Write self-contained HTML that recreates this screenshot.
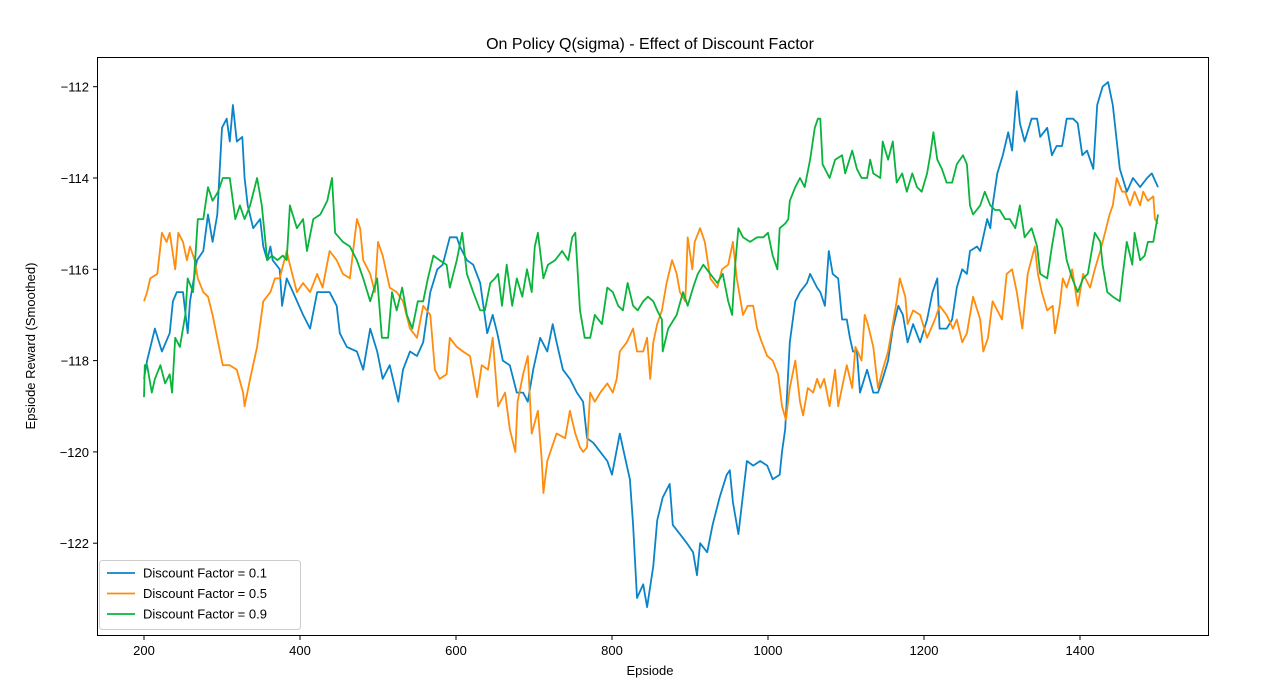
<!DOCTYPE html>
<html><head><meta charset="utf-8"><style>
html,body{margin:0;padding:0;background:#fff;}
svg{display:block;font-family:"Liberation Sans","DejaVu Sans",sans-serif;}
</style></head><body>
<svg id="chart" width="1286" height="696" viewBox="0 0 1286 696">
<text x="650" y="49" font-size="16" text-anchor="middle">On Policy Q(sigma) - Effect of Discount Factor</text>
<text x="650" y="675" font-size="13" text-anchor="middle">Epsiode</text>
<text transform="translate(35,346) rotate(-90)" font-size="13" text-anchor="middle">Epsiode Reward (Smoothed)</text>
<g id="ticks"></g>
<g id="lines"></g>
<rect x="97.5" y="57.5" width="1111" height="578" fill="none" stroke="#000" stroke-width="1"/>
<g id="legend"></g>
</svg>
<script>
const xTicks=[200,400,600,800,1000,1200,1400];
const yTicks=[-112,-114,-116,-118,-120,-122];
const seriesNames=["Discount Factor = 0.1","Discount Factor = 0.5","Discount Factor = 0.9"];
const seriesColors=["#0a84c8","#ff8c0a","#0ab43c"];
const blueEp=[200,204,214,223,233,237,242,250,256,259,268,276,282,288,294,300,306,310,314,319,326,329,333,340,349,353,358,362,365,374,377,383,391,404,413,422,429,438,447,451,460,473,481,490,499,506,515,526,532,541,550,558,567,576,583,592,601,605,614,622,631,640,647,653,660,669,678,686,692,699,708,717,724,729,737,746,755,763,768,776,785,794,800,810,819,823,827,832,840,845,853,858,865,874,878,887,896,904,909,913,922,929,938,947,951,955,962,973,981,990,999,1006,1015,1018,1022,1028,1035,1041,1050,1054,1063,1067,1073,1078,1083,1090,1095,1101,1105,1109,1114,1118,1127,1135,1141,1147,1154,1160,1167,1173,1179,1186,1195,1204,1211,1217,1220,1229,1236,1242,1249,1255,1259,1268,1272,1281,1285,1288,1294,1301,1308,1313,1319,1323,1329,1338,1345,1349,1358,1364,1370,1377,1383,1391,1397,1403,1409,1417,1422,1429,1436,1442,1451,1460,1468,1477,1486,1492,1500];
const blueVal=[-118.4,-118.0,-117.3,-117.8,-117.4,-116.7,-116.5,-116.5,-117.4,-116.7,-115.8,-115.6,-114.8,-115.4,-114.8,-112.9,-112.7,-113.2,-112.4,-113.2,-113.1,-114.0,-114.6,-115.1,-114.9,-115.5,-115.8,-115.5,-115.8,-116.0,-116.8,-116.2,-116.5,-117.0,-117.3,-116.5,-116.5,-116.5,-116.8,-117.4,-117.7,-117.8,-118.2,-117.3,-117.8,-118.4,-118.1,-118.9,-118.2,-117.8,-117.9,-117.6,-116.5,-116.0,-115.9,-115.3,-115.3,-115.5,-115.8,-115.9,-116.3,-117.4,-117.0,-117.4,-118.0,-118.1,-118.7,-118.7,-118.9,-118.2,-117.5,-117.8,-117.2,-117.6,-118.2,-118.4,-118.7,-118.9,-119.7,-119.8,-120.0,-120.2,-120.5,-119.6,-120.3,-120.6,-121.6,-123.2,-122.9,-123.4,-122.5,-121.5,-121.0,-120.7,-121.6,-121.8,-122.0,-122.2,-122.7,-122.0,-122.2,-121.6,-121.0,-120.5,-120.4,-121.1,-121.8,-120.2,-120.3,-120.2,-120.3,-120.6,-120.5,-120.0,-119.5,-117.6,-116.7,-116.5,-116.3,-116.1,-116.4,-116.5,-116.8,-115.6,-116.1,-116.2,-117.1,-117.1,-117.5,-117.8,-117.8,-118.7,-118.2,-118.7,-118.7,-118.4,-118.0,-117.3,-116.8,-117.0,-117.6,-117.2,-117.6,-117.1,-116.5,-116.2,-117.3,-117.3,-117.1,-116.4,-116.0,-116.1,-115.6,-115.5,-115.6,-114.9,-115.1,-114.6,-113.9,-113.5,-113.0,-113.4,-112.1,-112.8,-113.2,-112.7,-112.7,-113.1,-112.9,-113.5,-113.3,-113.3,-112.7,-112.7,-112.8,-113.5,-113.4,-113.8,-112.4,-112.0,-111.9,-112.4,-113.8,-114.3,-114.0,-114.2,-114.0,-113.9,-114.2];
const orangeEp=[200,204,208,217,221,223,229,233,240,244,250,255,259,265,269,276,282,288,295,301,310,319,327,329,336,345,353,362,368,374,383,387,396,404,413,422,429,438,447,455,464,473,477,481,490,496,500,506,515,524,532,541,550,558,567,573,579,588,592,601,609,618,627,633,641,647,654,663,669,676,679,686,692,697,705,710,712,717,723,729,740,746,753,759,763,768,772,778,785,794,801,806,810,819,827,832,840,845,849,853,858,864,870,877,883,887,894,897,903,906,913,919,926,935,941,949,955,960,964,968,974,981,986,992,999,1006,1013,1018,1023,1028,1035,1041,1045,1051,1058,1063,1067,1072,1079,1086,1090,1096,1101,1108,1112,1115,1120,1124,1128,1135,1141,1147,1154,1159,1165,1169,1176,1179,1186,1195,1204,1214,1220,1229,1237,1242,1249,1255,1263,1272,1276,1282,1288,1300,1306,1313,1319,1326,1333,1342,1346,1351,1358,1365,1368,1374,1378,1383,1390,1397,1404,1413,1419,1426,1432,1438,1442,1447,1454,1458,1464,1470,1477,1481,1487,1494,1496,1500];
const orangeVal=[-116.7,-116.5,-116.2,-116.1,-115.5,-115.2,-115.4,-115.2,-116.0,-115.2,-115.4,-115.8,-115.5,-115.8,-116.2,-116.5,-116.6,-117.0,-117.6,-118.1,-118.1,-118.2,-118.7,-119.0,-118.4,-117.7,-116.7,-116.5,-116.2,-116.2,-115.6,-115.9,-116.5,-116.3,-116.5,-116.1,-116.4,-115.6,-115.8,-116.1,-116.2,-114.9,-115.1,-115.8,-116.1,-116.5,-115.4,-115.7,-116.4,-116.5,-116.7,-117.3,-117.5,-116.8,-117.0,-118.2,-118.4,-118.3,-117.5,-117.7,-117.8,-117.9,-118.8,-118.1,-118.2,-117.5,-119.0,-118.7,-119.5,-120.0,-118.9,-118.3,-117.9,-119.6,-119.1,-120.2,-120.9,-120.2,-119.9,-119.6,-119.7,-119.1,-119.6,-119.9,-120.0,-119.9,-118.7,-118.9,-118.7,-118.5,-118.7,-118.4,-117.8,-117.6,-117.3,-117.8,-117.8,-117.5,-118.4,-117.6,-117.2,-116.9,-116.3,-115.8,-116.1,-116.5,-116.7,-115.3,-116.0,-115.4,-115.1,-115.4,-116.2,-116.4,-116.0,-115.9,-115.4,-116.2,-116.6,-117.0,-116.8,-116.8,-117.3,-117.6,-117.9,-118.0,-118.3,-119.0,-119.3,-118.6,-118.0,-118.9,-119.2,-118.6,-118.7,-118.4,-118.6,-118.4,-119.0,-118.2,-119.0,-118.5,-118.1,-118.6,-117.7,-117.8,-118.0,-117.0,-117.2,-117.7,-118.6,-118.2,-117.8,-117.3,-116.7,-116.2,-116.6,-117.2,-116.9,-117.0,-117.5,-117.1,-116.8,-117.0,-117.3,-117.1,-117.6,-117.4,-116.6,-117.1,-117.8,-117.5,-116.7,-117.1,-116.1,-116.0,-116.5,-117.3,-116.1,-115.5,-116.1,-116.5,-116.9,-116.8,-117.4,-116.8,-116.2,-116.4,-116.0,-116.8,-116.1,-116.4,-116.0,-115.6,-115.2,-114.8,-114.6,-114.0,-114.3,-114.3,-114.6,-114.3,-114.6,-114.3,-114.5,-114.4,-114.9,-115.0];
const greenEp=[200,201,204,210,214,221,227,233,236,240,246,253,256,263,269,276,282,288,295,301,310,317,323,329,336,345,351,358,364,371,378,383,387,396,404,409,417,426,435,441,445,455,464,473,481,490,499,505,513,518,524,531,537,544,551,558,564,571,579,588,592,601,608,614,622,631,637,644,650,654,659,665,672,678,685,691,697,701,705,712,718,727,736,744,749,753,759,765,772,778,787,794,801,808,814,820,827,833,840,846,853,858,864,865,872,883,891,897,904,910,917,926,935,942,949,954,958,962,968,977,986,994,1000,1006,1012,1015,1022,1026,1028,1035,1041,1047,1054,1060,1064,1067,1070,1079,1086,1095,1099,1108,1114,1120,1127,1131,1135,1144,1147,1154,1160,1165,1172,1178,1185,1191,1197,1204,1208,1212,1217,1223,1229,1236,1242,1250,1255,1259,1263,1272,1278,1285,1291,1297,1304,1310,1317,1323,1329,1338,1345,1349,1358,1364,1370,1377,1383,1390,1397,1404,1410,1419,1426,1429,1435,1442,1451,1455,1460,1467,1470,1477,1483,1487,1494,1500];
const greenVal=[-118.8,-118.1,-118.1,-118.7,-118.4,-118.1,-118.5,-118.3,-118.7,-117.5,-117.7,-117.0,-116.2,-116.5,-114.9,-114.9,-114.2,-114.5,-114.3,-114.0,-114.0,-114.9,-114.6,-114.9,-114.6,-114.0,-114.6,-115.8,-115.7,-115.8,-115.7,-115.8,-114.6,-115.1,-114.9,-115.6,-114.9,-114.8,-114.5,-114.0,-115.2,-115.4,-115.5,-115.8,-116.2,-116.7,-116.2,-117.5,-117.5,-116.5,-116.9,-116.4,-117.0,-117.3,-116.7,-116.7,-116.2,-115.7,-115.8,-115.9,-116.4,-115.8,-115.2,-116.1,-116.5,-116.9,-116.9,-116.3,-116.2,-116.1,-116.8,-115.9,-116.8,-116.2,-116.6,-116.0,-116.5,-115.5,-115.2,-116.2,-115.9,-115.8,-115.6,-115.8,-115.3,-115.2,-116.9,-117.5,-117.5,-117.0,-117.2,-116.4,-116.5,-116.8,-116.9,-116.3,-116.8,-116.9,-116.7,-116.6,-116.7,-116.9,-117.1,-117.8,-117.3,-117.0,-116.5,-116.8,-116.4,-116.1,-115.9,-116.1,-116.3,-116.1,-116.7,-117.0,-115.9,-115.1,-115.3,-115.4,-115.3,-115.3,-115.2,-115.7,-116.0,-115.1,-115.0,-114.9,-114.5,-114.2,-114.0,-114.2,-113.6,-112.9,-112.7,-112.7,-113.7,-114.0,-113.6,-113.5,-113.9,-113.4,-113.8,-114.0,-114.0,-113.6,-113.9,-114.0,-113.2,-113.6,-113.2,-114.1,-113.9,-114.3,-113.9,-114.2,-114.3,-113.9,-113.5,-113.0,-113.6,-113.8,-114.1,-114.1,-113.7,-113.5,-113.7,-114.6,-114.8,-114.6,-114.3,-114.6,-114.7,-114.7,-114.9,-114.9,-115.1,-114.6,-115.3,-115.1,-115.5,-116.1,-116.2,-115.5,-114.9,-115.1,-115.8,-116.2,-116.5,-116.2,-116.1,-115.2,-115.4,-115.9,-116.5,-116.6,-116.7,-116.1,-115.4,-115.9,-115.2,-115.8,-115.7,-115.4,-115.4,-114.8];

const NS="http://www.w3.org/2000/svg";
function xScale(e){return 144+(e-200)*0.78;}
function yScale(v){return 86.7+(-112-v)*45.65;}
function mk(tag,attrs,parent){const el=document.createElementNS(NS,tag);for(const k in attrs)el.setAttribute(k,attrs[k]);parent.appendChild(el);return el;}

const ticks=document.getElementById('ticks');
xTicks.forEach(t=>{
  const x=xScale(t);
  const l=mk('line',{x1:x,x2:x,y1:635.5,y2:640,stroke:'#000','stroke-width':1},ticks);
  
  
  const tx=mk('text',{x:x,y:655,'font-size':13,'text-anchor':'middle'},ticks);
  tx.textContent=String(t);
  
  
});
yTicks.forEach(t=>{
  const y=yScale(t);
  const l=mk('line',{x1:93,x2:97.5,y1:y,y2:y,stroke:'#000','stroke-width':1},ticks);
  
  
  const tx=mk('text',{x:89,y:y+5,'font-size':13,'text-anchor':'end'},ticks);
  tx.textContent='\u2212'+String(Math.abs(t));
  
  
});

const lines=document.getElementById('lines');
const seriesEp=[blueEp,orangeEp,greenEp];
const seriesVal=[blueVal,orangeVal,greenVal];
const seriesIds=['series-discount-0-1','series-discount-0-5','series-discount-0-9'];
for(let s=0;s<3;s++){
  const pts=seriesEp[s].map((e,i)=>xScale(e).toFixed(1)+','+yScale(seriesVal[s][i]).toFixed(1)).join(' ');
  const pl=mk('polyline',{points:pts,fill:'none',stroke:seriesColors[s],'stroke-width':1.8,'stroke-linejoin':'round'},lines);
  
  
}

const lg=document.getElementById('legend');
const box=mk('rect',{x:99.5,y:560.5,width:201,height:69,rx:3,fill:'#fff',stroke:'#ccc','stroke-width':1},lg);


for(let s=0;s<3;s++){
  const y=573+s*20.5;
  const ln=mk('line',{x1:107,x2:135,y1:y,y2:y,stroke:seriesColors[s],'stroke-width':1.8},lg);
  
  
  const tx=mk('text',{x:143,y:y+4.5,'font-size':13},lg);
  tx.textContent=seriesNames[s];
  
  
}
</script>
</body></html>
